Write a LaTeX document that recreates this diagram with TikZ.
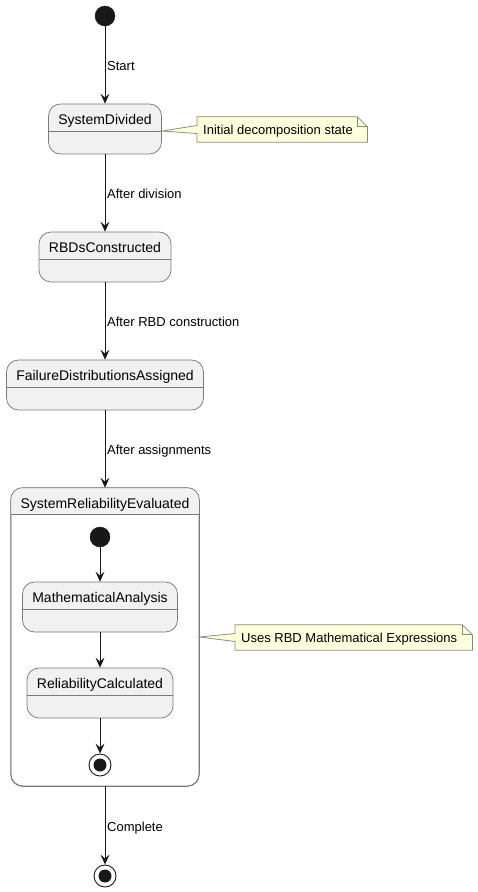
\documentclass[tikz,border=0pt]{standalone}
\usepackage{fontspec}
\setmainfont{Liberation Sans}
\usetikzlibrary{arrows.meta,calc}
\definecolor{stfill}{HTML}{F1F1F1}
\definecolor{stline}{HTML}{7A7A7A}
\definecolor{notefill}{HTML}{FEFFDD}
\definecolor{noteline}{HTML}{8A8A7A}
\definecolor{ink}{HTML}{181818}
\begin{document}
\begin{tikzpicture}[x=1pt,y=-1pt,
  statebox/.style={draw=stline, fill=stfill, rounded corners=12, minimum height=50, inner sep=0, line width=0.75},
  compbox/.style={draw=stline, fill=white, rounded corners=12, inner sep=0, line width=0.75},
  sttitle/.style={font=\fontsize{14}{16}\selectfont, inner sep=0, anchor=base},
  elabel/.style={font=\fontsize{13}{15}\selectfont, inner sep=0, anchor=base west},
  notebox/.style={inner sep=0, minimum height=25},
  notetext/.style={font=\fontsize{13}{15}\selectfont, inner sep=0, anchor=base west},
  startdot/.style={circle, fill=ink, draw=ink, minimum size=20, inner sep=0},
  enddot/.style={circle, fill=white, draw=ink, line width=0.9, minimum size=22, inner sep=0},
  trans/.style={draw=ink, line width=0.9, -{Stealth[length=10, width=9, inset=4]}},
  hdr/.style={draw=stline, line width=0.75}
]
\useasboundingbox[fill=white] (0,0) rectangle (478,892);

% initial
\node[startdot] (init) at (105,16) {};

% SystemDivided
\node[statebox, minimum width=113] (sd) at (105,129) {};
\draw[hdr] ($(sd.west)+(0,2)$) -- ($(sd.east)+(0,2)$);
\node[sttitle] (sdt) at (105,124) {SystemDivided};

% RBDsConstructed
\node[statebox, minimum width=132] (rbd) at (105,257) {};
\draw[hdr] ($(rbd.west)+(0,2)$) -- ($(rbd.east)+(0,2)$);
\node[sttitle] (rbdt) at (105,252) {RBDsConstructed};

% FailureDistributionsAssigned
\node[statebox, minimum width=197] (fda) at (105,385) {};
\draw[hdr] ($(fda.west)+(0,2)$) -- ($(fda.east)+(0,2)$);
\node[sttitle] (fdat) at (105,380) {FailureDistributionsAssigned};

% Composite
\node[compbox, minimum width=188, minimum height=298] (sre) at (105,637) {};
\begin{scope}
  \clip[rounded corners=12] (sre.north west) rectangle (sre.south east);
  \fill[stfill] (sre.north west) rectangle ($(sre.north east)+(0,27)$);
\end{scope}
\draw[draw=stline, line width=0.75, rounded corners=12] (sre.north west) rectangle (sre.south east);
\draw[hdr] ($(sre.north west)+(0,27)$) -- ($(sre.north east)+(0,27)$);
\node[sttitle] (sret) at (105,508) {SystemReliabilityEvaluated};

\node[startdot] (iinit) at (100,537) {};
\node[statebox, minimum width=155] (ma) at (100,607) {};
\draw[hdr] ($(ma.west)+(0,2)$) -- ($(ma.east)+(0,2)$);
\node[sttitle] (mat) at (100,602) {MathematicalAnalysis};
\node[statebox, minimum width=146] (rc) at (100,693) {};
\draw[hdr] ($(rc.west)+(0,2)$) -- ($(rc.east)+(0,2)$);
\node[sttitle] (rct) at (100,688) {ReliabilityCalculated};
\node[enddot] (iend) at (100,765) {};
\node[circle, fill=ink, minimum size=13, inner sep=0] (iendc) at (iend.center) {};

% final
\node[enddot] (fin) at (105,876) {};
\node[circle, fill=ink, minimum size=13, inner sep=0] (finc) at (fin.center) {};

% transitions
\draw[trans] (init) -- (sd.north);
\draw[trans] (sd.south) -- (rbd.north);
\draw[trans] (rbd.south) -- (fda.north);
\draw[trans] (fda.south) -- (sre.north);
\draw[trans] (iinit) -- (ma.north);
\draw[trans] (ma.south) -- (rc.north);
\draw[trans] (rc.south) -- (iend);
\draw[trans] (sre.south) -- (fin);

\node[elabel] (l1) at (107,70) {Start};
\node[elabel] (l2) at (107,198) {After division};
\node[elabel] (l3) at (107,326) {After RBD construction};
\node[elabel] (l4) at (107,454) {After assignments};
\node[elabel] (l5) at (107,831) {Complete};

% note 1
\node[notebox, anchor=west, minimum width=170] (n1) at (197,129.5) {};
\draw[draw=noteline, fill=notefill, line width=0.75]
  (n1.north west) -- ($(n1.north east)+(-10,0)$) -- ($(n1.north east)+(0,10)$)
  -- (n1.south east) -- (n1.south west) -- ($(n1.west)+(0,4)$)
  -- ($(sd.east)+(0,2)$) -- ($(n1.west)+(0,-4)$) -- cycle;
\draw[draw=noteline, line width=0.75] ($(n1.north east)+(-10,0)$) |- ($(n1.north east)+(0,10)$);
\node[notetext] (n1t) at (203,134) {Initial decomposition state};

% note 2
\node[notebox, anchor=west, minimum width=237] (n2) at (235,637.5) {};
\draw[draw=noteline, fill=notefill, line width=0.75]
  (n2.north west) -- ($(n2.north east)+(-10,0)$) -- ($(n2.north east)+(0,10)$)
  -- (n2.south east) -- (n2.south west) -- ($(n2.west)+(0,4)$)
  -- (sre.east) -- ($(n2.west)+(0,-4)$) -- cycle;
\draw[draw=noteline, line width=0.75] ($(n2.north east)+(-10,0)$) |- ($(n2.north east)+(0,10)$);
\node[notetext] (n2t) at (241,642.7) {Uses RBD Mathematical Expressions};
\end{tikzpicture}
\end{document}
